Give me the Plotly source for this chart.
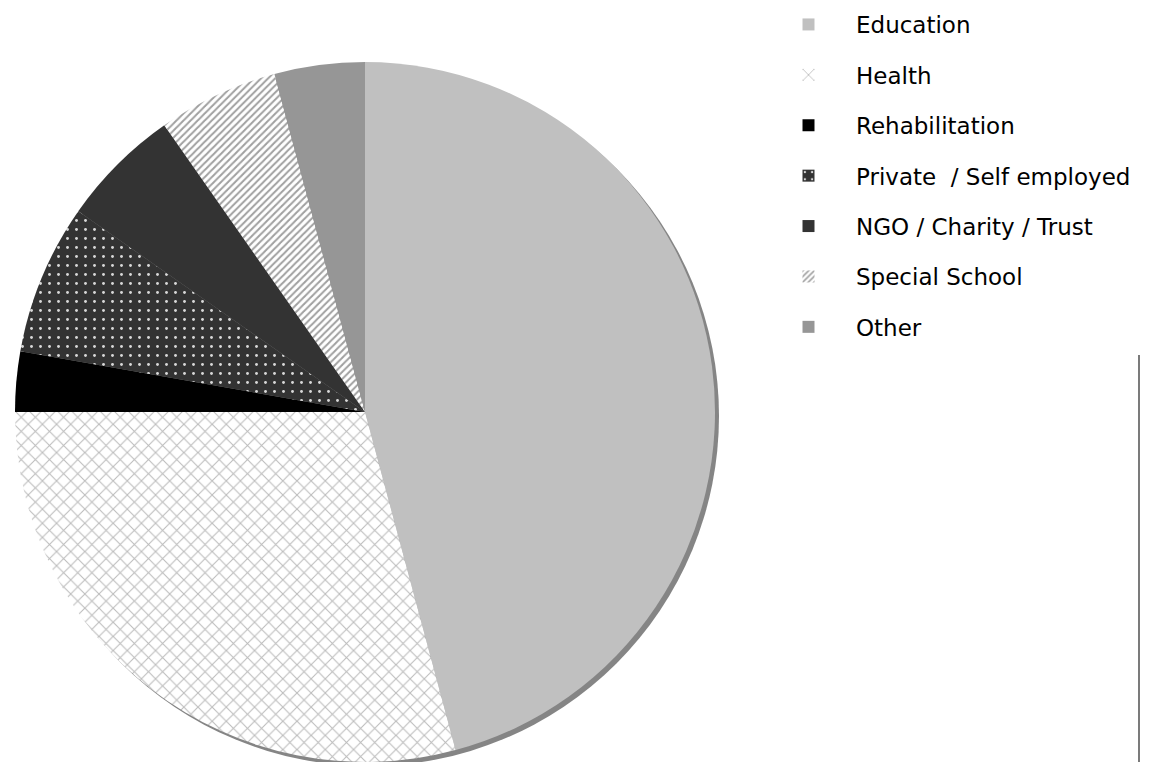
import plotly.graph_objects as go

# Employment sector of respondents (counts)
categories = [
    "Education",
    "Health",
    "Rehabilitation",
    "Private\u00a0 / Self employed",
    "NGO / Charity / Trust",
    "Special School",
    "Other",
]
counts = [33, 21, 2, 5, 4, 4, 3]

# Fill style per sector: (base colour, pattern shape, pattern fg, pattern bg, size, solidity)
styles = [
    ("#c0c0c0", "", None, None, 8, 0.3),
    ("#ffffff", "x", "#bcbcbc", "#ffffff", 10, 0.2),
    ("#000000", "", None, None, 8, 0.3),
    ("#333333", ".", "#d8d8d8", "#333333", 9, 0.08),
    ("#333333", "", None, None, 8, 0.3),
    ("#ffffff", "/", "#a0a0a0", "#ffffff", 5, 0.4),
    ("#969696", "", None, None, 8, 0.3),
]

W, H = 1150, 762
R = 350           # pie radius in px
CX, CY = 365, 412  # pie centre in px (from top-left)


def pattern_of(st):
    color, shape, fg, bg, size, sol = st
    if not shape:
        return dict(shape="")
    return dict(shape=shape, fgcolor=fg, bgcolor=bg, size=size,
                solidity=sol, fillmode="replace")


fig = go.Figure()

fig.add_trace(go.Pie(
    labels=categories,
    values=counts,
    sort=False,
    direction="clockwise",
    rotation=0,
    textinfo="none",
    hoverinfo="label+value+percent",
    showlegend=False,
    marker=dict(
        colors=[s[0] for s in styles],
        pattern=dict(
            shape=[s[1] for s in styles],
            fgcolor=[s[2] or s[0] for s in styles],
            bgcolor=[s[3] or s[0] for s in styles],
            size=[s[4] for s in styles],
            solidity=[s[5] for s in styles],
            fillmode="replace",
        ),
        line=dict(width=0),
    ),
    domain=dict(x=[(CX - R) / W, (CX + R) / W],
                y=[(H - CY - R) / H, (H - CY + R) / H]),
))

# Legend entries, one group each so the rows can be spaced apart
for name, st in zip(categories, styles):
    fig.add_trace(go.Bar(
        x=[None], y=[None], name=name, legendgroup=name,
        marker=dict(color=st[0], pattern=pattern_of(st), line=dict(width=0)),
        hoverinfo="skip", showlegend=True,
    ))

# Drop shadow under the pie
fig.add_shape(
    type="circle", xref="paper", yref="paper",
    xsizemode="pixel", ysizemode="pixel",
    xanchor=CX / W, yanchor=(H - CY) / H,
    x0=-R + 4, x1=R + 4, y0=-R - 4, y1=R - 4,
    fillcolor="#858585", line=dict(width=0), layer="below",
)

# Vertical rule at the right edge
fig.add_shape(
    type="line", xref="paper", yref="paper",
    x0=1139 / W, x1=1139 / W, y0=0, y1=(H - 355) / H,
    line=dict(color="#222222", width=1.2),
)

fig.update_layout(
    width=W, height=H,
    margin=dict(l=0, r=0, t=0, b=0),
    paper_bgcolor="white",
    plot_bgcolor="rgba(0,0,0,0)",
    xaxis=dict(visible=False),
    yaxis=dict(visible=False),
    font=dict(family="DejaVu Sans", size=23, color="#000000"),
    legend=dict(
        x=761 / W, xanchor="left",
        y=1 - 3 / H, yanchor="top",
        traceorder="grouped",
        tracegroupgap=17.5,
        itemwidth=85,
        bgcolor="rgba(0,0,0,0)",
        font=dict(family="DejaVu Sans", size=23, color="#000000"),
    ),
)

fig.write_html("out.html")
